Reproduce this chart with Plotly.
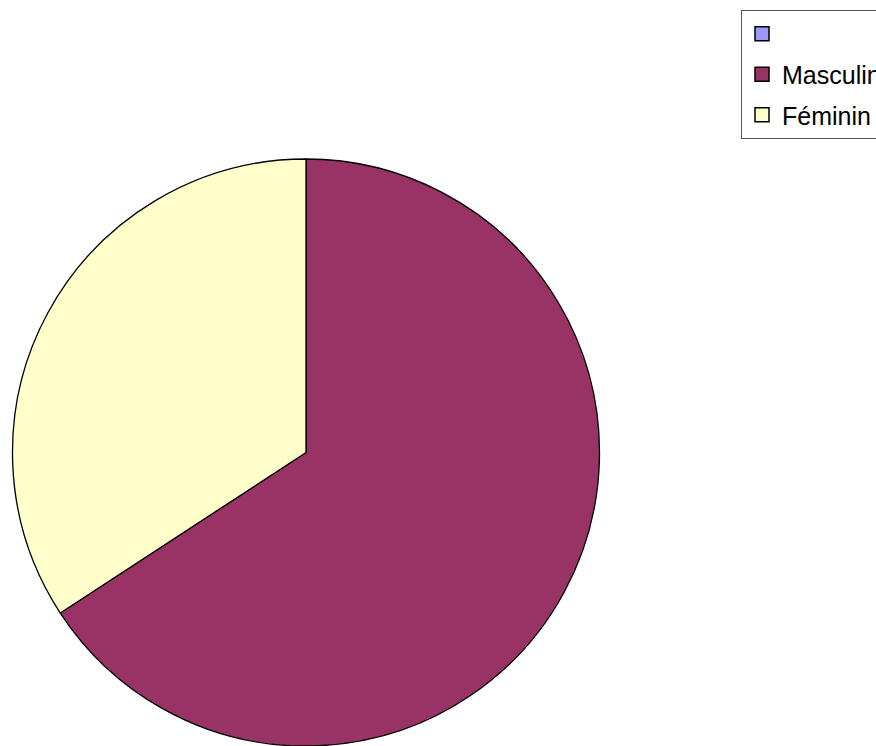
import plotly.graph_objects as go

labels = ["", "Masculin", "Féminin"]
values = [0, 25, 13]
colors = ["#9999FF", "#993366", "#FFFFCC"]

W, H = 876, 746

fig = go.Figure()

fig.add_trace(go.Pie(
    labels=labels,
    values=values,
    sort=False,
    direction="clockwise",
    rotation=0,
    marker=dict(colors=colors, line=dict(color="black", width=1.3)),
    textinfo="none",
    hoverinfo="label+percent",
    showlegend=False,
    domain=dict(x=[11 / W, 601 / W], y=[0, 1 - 159 / H]),
))

# legend entries (one per category, each in its own group for spacing)
for lab, col in zip(labels, colors):
    fig.add_trace(go.Scatter(
        x=[None], y=[None], mode="markers", name=lab if lab else " ",
        legendgroup=lab if lab else "empty",
        marker=dict(symbol="square", size=14, color=col,
                    line=dict(color="black", width=1.5)),
        hoverinfo="skip",
    ))

fig.update_layout(
    width=W, height=H,
    margin=dict(l=0, r=0, t=0, b=0, autoexpand=False),
    paper_bgcolor="white", plot_bgcolor="white",
    xaxis=dict(visible=False), yaxis=dict(visible=False),
    showlegend=True,
    legend=dict(
        x=741 / W, xanchor="left", xref="paper",
        y=1 - 10 / H, yanchor="top", yref="paper",
        bgcolor="white", bordercolor="#555555", borderwidth=1,
        font=dict(family="Liberation Sans, Arial, sans-serif", size=25, color="black"),
        tracegroupgap=5,
        traceorder="grouped",
    ),
)

fig.write_html("out.html")
